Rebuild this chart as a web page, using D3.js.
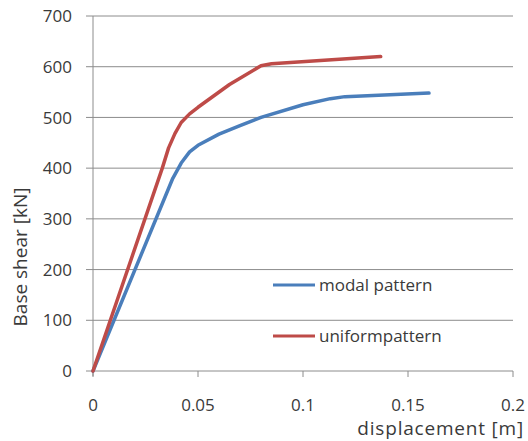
<!DOCTYPE html>
<html>
<head>
<meta charset="utf-8">
<script src="https://cdn.jsdelivr.net/npm/d3@7"></script>
<style>
  body { margin: 0; background: #fff; }
  text { font-family: "Open Sans", "Liberation Sans", sans-serif; fill: #3a3a3a; }
</style>
</head>
<body>
<svg id="chart" width="528" height="441"></svg>
<script>
// displacement [m] / base shear [kN]
var modalDisp  = [0, 0.038, 0.042, 0.046, 0.050, 0.060, 0.070, 0.080, 0.100, 0.113, 0.120, 0.160];
var modalShear = [0, 380,   410,   432,   445,   467,   484,   500,   525,   537,   541,   548];
var uniformDisp  = [0, 0.033, 0.036, 0.039, 0.042, 0.046, 0.050, 0.065, 0.080, 0.085, 0.137];
var uniformShear = [0, 400,   440,   468,   490,   507,   520,   565,   602,   606,   620];
var xTicks = [0, 0.05, 0.1, 0.15, 0.2];
var yTicks = [0, 100, 200, 300, 400, 500, 600, 700];
var seriesNames = ["modal pattern", "uniformpattern"];
var seriesColors = ["#4a7ebb", "#be4b48"];

var m = { left: 93, right: 15, top: 16, bottom: 70 };
var w = 528 - m.left - m.right,
    h = 441 - m.top - m.bottom;

var chart = d3.select("#chart")
    .append("g")
    .attr("transform", "translate(" + m.left + "," + m.top + ")");

var x = d3.scaleLinear().domain([0, 0.2]).range([0, w]);
var y = d3.scaleLinear().domain([0, 700]).range([h, 0]);

// horizontal gridlines
chart.append("g").selectAll("line")
    .data(yTicks)
    .enter().append("line")
    .attr("x1", -7).attr("x2", w)
    .attr("y1", function (d) { return y(d); })
    .attr("y2", function (d) { return y(d); })
    .style("stroke", "#8c8c8c")
    .style("stroke-width", 1);

// y axis line
chart.append("line")
    .attr("x1", 0).attr("x2", 0)
    .attr("y1", 0).attr("y2", h + 5)
    .style("stroke", "#8c8c8c");

// x ticks
chart.append("g").selectAll("line")
    .data(xTicks)
    .enter().append("line")
    .attr("x1", function (d) { return x(d); })
    .attr("x2", function (d) { return x(d); })
    .attr("y1", h).attr("y2", h + 6)
    .style("stroke", "#8c8c8c");

// tick labels
chart.append("g").selectAll("text")
    .data(yTicks)
    .enter().append("text")
    .attr("x", -21)
    .attr("y", function (d) { return y(d); })
    .attr("dy", "0.36em")
    .attr("text-anchor", "end")
    .style("font-size", "17px")
    .text(function (d) { return d; });

chart.append("g").selectAll("text")
    .data(xTicks)
    .enter().append("text")
    .attr("x", function (d) { return x(d); })
    .attr("y", h + 40)
    .attr("text-anchor", "middle")
    .style("font-size", "17px")
    .text(function (d) { return d; });

// axis titles
chart.append("text")
    .attr("x", 524 - m.left)
    .attr("y", 435 - m.top)
    .attr("text-anchor", "end")
    .style("font-size", "19px")
    .style("letter-spacing", "0.8px")
    .text("displacement [m]");

chart.append("text")
    .attr("transform", "translate(" + (27 - m.left) + "," + (257 - m.top) + ") rotate(-90)")
    .attr("text-anchor", "middle")
    .style("font-size", "19px")
    .text("Base shear [kN]");

// lines
var line = d3.line()
    .x(function (d) { return x(d[0]); })
    .y(function (d) { return y(d[1]); });

var series = [d3.zip(modalDisp, modalShear), d3.zip(uniformDisp, uniformShear)];

chart.selectAll("path.series")
    .data(series)
    .enter().append("path")
    .attr("class", "series")
    .attr("d", line)
    .style("fill", "none")
    .style("stroke", function (d, i) { return seriesColors[i]; })
    .style("stroke-width", 3.5)
    .style("stroke-linejoin", "round")
    .style("stroke-linecap", "round");

// legend
var legend = chart.append("g").selectAll("g")
    .data(seriesNames)
    .enter().append("g")
    .attr("transform", function (d, i) { return "translate(" + (273 - m.left) + "," + (285 - m.top + i * 51) + ")"; });

legend.append("line")
    .attr("x1", 0).attr("x2", 42)
    .style("stroke", function (d, i) { return seriesColors[i]; })
    .style("stroke-width", 3);

legend.append("text")
    .attr("x", 46)
    .attr("dy", "0.35em")
    .style("font-size", "17px")
    .text(function (d) { return d; });
</script>
</body>
</html>
